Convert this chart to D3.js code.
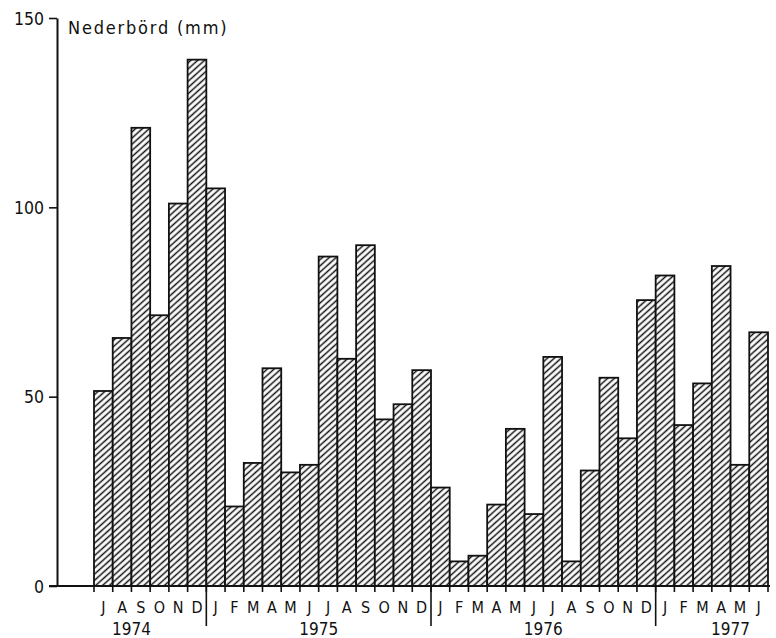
<!DOCTYPE html>
<html>
<head>
<meta charset="utf-8">
<script src="https://cdn.jsdelivr.net/npm/d3@7"></script>
<style>
  html, body { margin: 0; padding: 0; background: #fff; }
  svg { display: block; }
  text { font-family: "DejaVu Sans Condensed", "DejaVu Sans", sans-serif; fill: #111; }
</style>
</head>
<body>
<svg id="chart" width="776" height="638"></svg>
<script>
// Monthly precipitation, July 1974 – June 1977
const months = ["J","A","S","O","N","D",
                "J","F","M","A","M","J","J","A","S","O","N","D",
                "J","F","M","A","M","J","J","A","S","O","N","D",
                "J","F","M","A","M","J"];
const years = ["1974","1975","1976","1977"];
const yearStart = [0, 6, 18, 30];          // first month index of each year
const precipitation = [
  51.5, 65.5, 121, 71.5, 101, 139,
  105, 21, 32.5, 57.5, 30, 32, 87, 60, 90, 44, 48, 57,
  26, 6.5, 8, 21.5, 41.5, 19, 60.5, 6.5, 30.5, 55, 39, 75.5,
  82, 42.5, 53.5, 84.5, 32, 67
];
const yTicks = [0, 50, 100, 150];
const yTitle = "Nederbörd (mm)";

const svg = d3.select("#chart");

const x = d3.scaleBand()
  .domain(d3.range(precipitation.length))
  .range([94, 768])
  .padding(0);

const y = d3.scaleLinear().domain([0, 150]).range([586, 18]);

// diagonal hatching
const defs = svg.append("defs");
const pat = defs.append("pattern")
  .attr("id", "hatch")
  .attr("patternUnits", "userSpaceOnUse")
  .attr("width", 10)
  .attr("height", 4.6)
  .attr("patternTransform", "rotate(-42)");
pat.append("rect").attr("width", 10).attr("height", 4.6).attr("fill", "#fff");
pat.append("line")
  .attr("x1", 0).attr("x2", 10)
  .attr("y1", 2.3).attr("y2", 2.3)
  .attr("stroke", "#111").attr("stroke-width", 1.5);

// bars
svg.append("g").selectAll("rect")
  .data(precipitation)
  .join("rect")
  .attr("x", (d, i) => x(i))
  .attr("y", d => y(d))
  .attr("width", x.bandwidth())
  .attr("height", d => y(0) - y(d))
  .attr("fill", "url(#hatch)")
  .attr("stroke", "#111")
  .attr("stroke-width", 1.8);

// y axis
const yAxis = d3.axisLeft(y).tickValues(yTicks).tickSize(8).tickSizeOuter(0).tickPadding(5);
const gy = svg.append("g").attr("transform", "translate(57,0)").call(yAxis);
gy.select(".domain").attr("stroke", "#111").attr("stroke-width", 2);
gy.selectAll(".tick line").attr("stroke", "#111").attr("stroke-width", 1.6);
gy.selectAll(".tick text")
  .attr("font-size", 17.5)
  .attr("font-family", "DejaVu Sans Condensed, DejaVu Sans, sans-serif")
  .attr("fill", "#111")
  .attr("dy", "0.36em");

// y title
svg.append("text")
  .attr("x", 68).attr("y", 34)
  .attr("font-size", 18)
  .attr("letter-spacing", 1.8)
  .text(yTitle);

// baseline
const x0 = 49, x1 = x.range()[1] + 2;
svg.append("line")
  .attr("x1", x0).attr("x2", x1)
  .attr("y1", y(0)).attr("y2", y(0))
  .attr("stroke", "#111").attr("stroke-width", 2);

// month boundary ticks
const boundaries = d3.range(precipitation.length + 1);
const bx = i => (i < precipitation.length ? x(i) : x(i - 1) + x.bandwidth());
svg.append("g").selectAll("line")
  .data(boundaries)
  .join("line")
  .attr("x1", bx).attr("x2", bx)
  .attr("y1", y(0)).attr("y2", y(0) + 6)
  .attr("stroke", "#111").attr("stroke-width", 1.6);

// year separators
svg.append("g").selectAll("line")
  .data(yearStart.slice(1))
  .join("line")
  .attr("x1", bx).attr("x2", bx)
  .attr("y1", y(0)).attr("y2", y(0) + 40)
  .attr("stroke", "#111").attr("stroke-width", 1.6);

// month letters
svg.append("g").selectAll("text")
  .data(months)
  .join("text")
  .attr("x", (d, i) => x(i) + x.bandwidth() / 2)
  .attr("y", 613)
  .attr("text-anchor", "middle")
  .attr("font-size", 16)
  .text(d => d);

// year labels, centred on a month boundary inside each year
const yearLabelBoundary = [2, 12, 24, 34];
svg.append("g").selectAll("text")
  .data(years)
  .join("text")
  .attr("x", (d, i) => bx(yearLabelBoundary[i]))
  .attr("y", 635)
  .attr("text-anchor", "middle")
  .attr("font-size", 17)
  .text(d => d);
</script>
</body>
</html>
